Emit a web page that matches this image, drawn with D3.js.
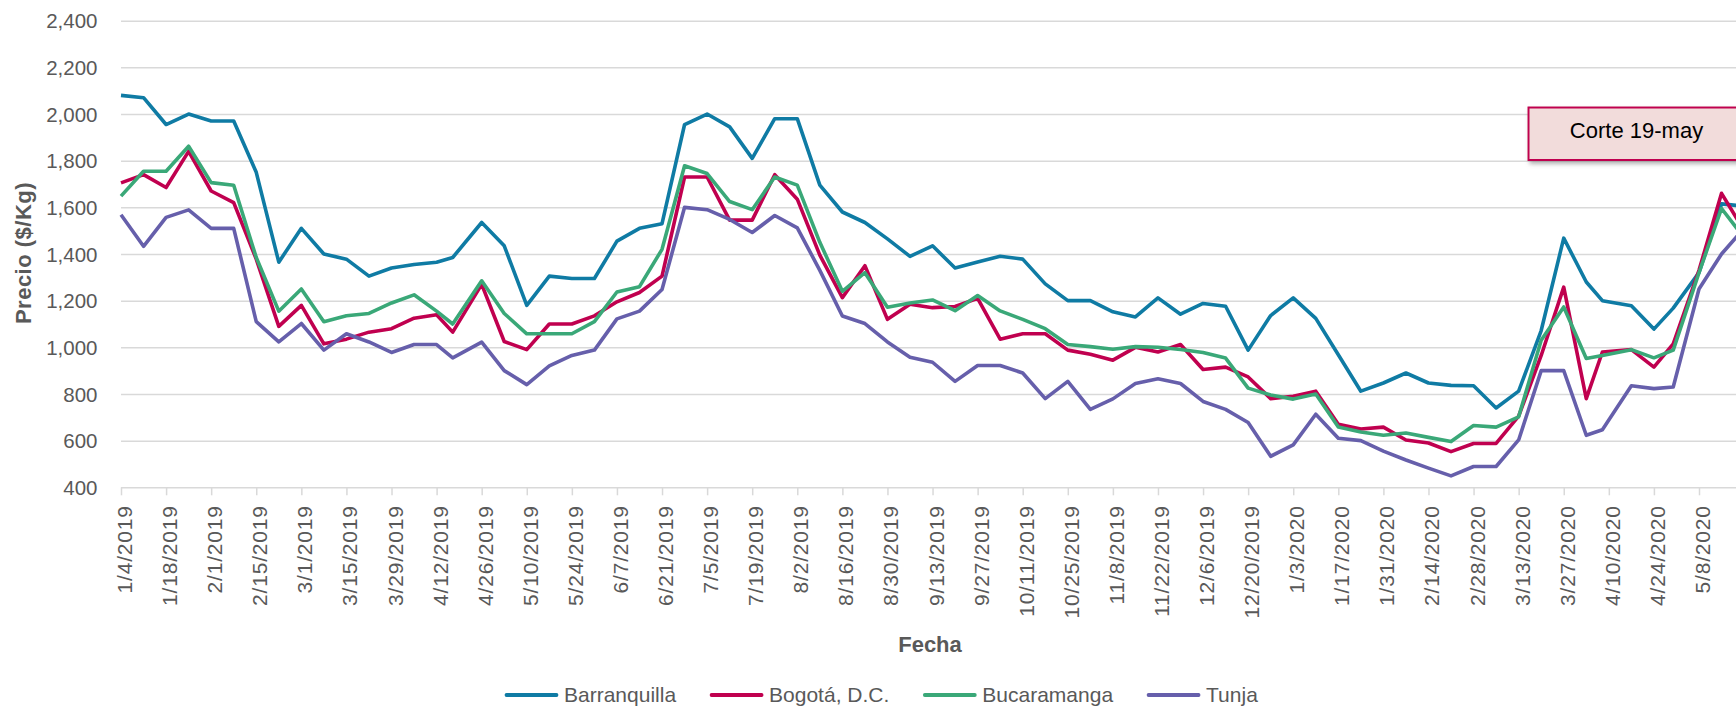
<!DOCTYPE html>
<html>
<head>
<meta charset="utf-8">
<script src="https://cdn.jsdelivr.net/npm/d3@7"></script>
<style>
	body	{ margin:0; background:#fff; }
	text	{ font-family: "Liberation Sans", Arial, sans-serif; }
</style>
</head>
<body>
<svg id="chart" width="1736" height="707"></svg>
<script>
// weekly observation dates (holiday weeks were taken earlier in the week)
var	dates	= ["2019-01-04","2019-01-11","2019-01-18","2019-01-25","2019-02-01","2019-02-08","2019-02-15","2019-02-22","2019-03-01","2019-03-08",
		"2019-03-15","2019-03-22","2019-03-29","2019-04-05","2019-04-12","2019-04-17","2019-04-26","2019-05-03","2019-05-10","2019-05-17",
		"2019-05-24","2019-05-31","2019-06-07","2019-06-14","2019-06-21","2019-06-28","2019-07-05","2019-07-12","2019-07-19","2019-07-26",
		"2019-08-02","2019-08-09","2019-08-16","2019-08-23","2019-08-30","2019-09-06","2019-09-13","2019-09-20","2019-09-27","2019-10-04",
		"2019-10-11","2019-10-18","2019-10-25","2019-11-01","2019-11-08","2019-11-15","2019-11-22","2019-11-29","2019-12-06","2019-12-13",
		"2019-12-20","2019-12-27","2020-01-03","2020-01-10","2020-01-17","2020-01-24","2020-01-31","2020-02-07","2020-02-14","2020-02-21",
		"2020-02-28","2020-03-06","2020-03-13","2020-03-20","2020-03-27","2020-04-03","2020-04-08","2020-04-17","2020-04-24","2020-04-30",
		"2020-05-08","2020-05-15","2020-05-22"];

var	barranquilla	= [2080,2070,1955,2000,1970,1970,1750,1365,1510,1400, 1378,1305,1340,1355,1365,1385,1535,1435,1180,1305,
		1295,1295,1455,1510,1530,1955,2000,1945,1810,1980, 1980,1695,1580,1535,1465,1390,1435,1340,1366,1390,
		1378,1272,1200,1200,1152,1130,1212,1142,1188,1176, 988,1136,1212,1124,968,812,847,890,847,837,
		835,740,812,1072,1468,1280,1200,1178,1078,1168, 1320,1615,1605];
var	bogota	= [1705,1740,1685,1840,1670,1620,1378,1090,1180,1015, 1035,1065,1080,1125,1140,1065,1270,1025,990,1100,
		1100,1135,1195,1235,1305,1730,1730,1545,1545,1740, 1635,1395,1213,1350,1120,1185,1170,1175,1210,1035,
		1058,1058,988,970,945,1000,980,1012,905,915, 873,780,790,812,670,650,658,603,590,553,
		588,588,705,965,1258,780,980,990,915,1015, 1330,1660,1500];
var	bucaramanga	= [1648,1755,1755,1862,1706,1695,1385,1155,1250,1110, 1135,1145,1190,1225,1155,1100,1285,1145,1058,1058,
		1058,1110,1237,1260,1420,1778,1745,1625,1590,1730, 1695,1450,1240,1320,1172,1190,1203,1157,1222,1156,
		1120,1080,1012,1003,992,1003,1000,991,978,954, 825,796,778,800,658,637,623,633,614,596,
		665,658,702,1030,1173,952,965,990,955,988, 1320,1595,1470];
var	tunja	= [1568,1433,1557,1589,1510,1510,1110,1023,1102,988, 1058,1023,978,1012,1012,955,1022,900,840,920,
		965,988,1122,1155,1248,1600,1590,1548,1492,1565, 1512,1330,1134,1102,1023,957,936,854,922,922,
		890,780,854,734,779,845,865,845,768,734, 678,533,582,713,610,600,555,517,482,449,
		489,489,603,900,900,623,647,835,823,830, 1250,1400,1510];

var	seriesNames	= ["Barranquilla", "Bogotá, D.C.", "Bucaramanga", "Tunja"];
var	seriesColors	= ["#0f7ba4", "#c0004f", "#3aa878", "#665fab"];
var	xTickLabels	= ["1/4/2019","1/18/2019","2/1/2019","2/15/2019","3/1/2019","3/15/2019","3/29/2019","4/12/2019","4/26/2019",
		"5/10/2019","5/24/2019","6/7/2019","6/21/2019","7/5/2019","7/19/2019","8/2/2019","8/16/2019","8/30/2019",
		"9/13/2019","9/27/2019","10/11/2019","10/25/2019","11/8/2019","11/22/2019","12/6/2019","12/20/2019",
		"1/3/2020","1/17/2020","1/31/2020","2/14/2020","2/28/2020","3/13/2020","3/27/2020","4/10/2020","4/24/2020","5/8/2020"];
var	yTicks	= [400, 600, 800, 1000, 1200, 1400, 1600, 1800, 2000, 2200, 2400];
var	yTitle	= "Precio ($/Kg)",
	xTitle	= "Fecha",
	note	= "Corte 19-may";

var	svg	= d3.select("#chart"),
	parseDay	= d3.utcParse("%Y-%m-%d"),
	parseTick	= d3.utcParse("%m/%d/%Y"),
	grey	= "#595959",
	gridCol	= "#d9d9d9";

var	days	= dates.map(parseDay),
	x0	= days[0],
	x1	= days[days.length-1],
	span	= (x1 - x0) / 864e5;

var	x	= d3.scaleUtc().domain([x0, x1]).range([121, 121 + span * 3.2204]),
	y	= d3.scaleLinear().domain([400, 2400]).range([487.3, 20.7]);

var	defs	= svg.append("defs");
defs.append("filter").attr("id", "shadow").attr("x", "-10%").attr("y", "-20%").attr("width", "130%").attr("height", "160%")
	.append("feDropShadow").attr("dx", 2).attr("dy", 3).attr("stdDeviation", 2)
	.attr("flood-color", "#7f7f7f").attr("flood-opacity", 0.6);

// gridlines + axis
var	yAxis	= svg.append("g").attr("class", "y axis")
		.call(d3.axisRight(y).tickValues(yTicks).tickSize(1760).tickFormat(d3.format(",")))
		.attr("transform", "translate(121,0)");
yAxis.select(".domain").remove();
yAxis.selectAll(".tick line").attr("stroke", gridCol).attr("stroke-width", 1.5);
yAxis.selectAll(".tick text").attr("x", -23.5).attr("dy", "0.35em").attr("text-anchor", "end")
	.attr("fill", grey).style("font-size", "20.5px");

var	xAxis	= svg.append("g").attr("class", "x axis").attr("transform", "translate(0," + y(400) + ")")
		.call(d3.axisBottom(x).tickValues(xTickLabels.map(parseTick)).tickSize(8).tickFormat(d3.utcFormat("%-m/%-d/%Y")));
xAxis.select(".domain").remove();
xAxis.selectAll(".tick line").attr("stroke", gridCol).attr("stroke-width", 1.5);
xAxis.selectAll(".tick text")
	.attr("transform", "rotate(-90)")
	.attr("x", -18).attr("y", 10.5).attr("dy", 0)
	.attr("text-anchor", "end")
	.attr("fill", grey)
	.style("font-size", "21px").style("letter-spacing", "0.8px");

// series
var	series	= [barranquilla, bogota, bucaramanga, tunja].map(function(vals, i) {
		return { name: seriesNames[i], color: seriesColors[i],
			values: vals.map(function(v, j) { return { date: days[j], value: v }; }) };
	});
var	line	= d3.line()
		.x(function(d) { return x(d.date); })
		.y(function(d) { return y(d.value); });

svg.append("g").attr("class", "lines").selectAll("path").data(series).enter()
	.append("path")
	.attr("d", function(d) { return line(d.values); })
	.attr("fill", "none")
	.attr("stroke", function(d) { return d.color; })
	.attr("stroke-width", 3.6)
	.attr("stroke-linejoin", "round");

// axis titles
svg.append("text").attr("transform", "translate(31,253) rotate(-90)")
	.attr("text-anchor", "middle").attr("fill", grey)
	.style("font-size", "22px").style("font-weight", "bold").style("letter-spacing", "0.5px")
	.text(yTitle);
svg.append("text").attr("x", 930).attr("y", 651.5)
	.attr("text-anchor", "middle").attr("fill", grey)
	.style("font-size", "22px").style("font-weight", "bold")
	.text(xTitle);

// note box
var	box	= svg.append("g").attr("class", "note");
box.append("rect").attr("x", 1528.5).attr("y", 107.5).attr("width", 230).attr("height", 52.5)
	.attr("fill", "#f2dcdb").attr("stroke", "#c0004f").attr("stroke-width", 2)
	.attr("filter", "url(#shadow)");
box.append("text").attr("x", 1636.5).attr("y", 138).attr("text-anchor", "middle")
	.attr("fill", "#000").style("font-size", "22px")
	.text(note);

// legend
var	legend	= svg.append("g").attr("class", "legend"),
	lx	= 505;
series.forEach(function(s) {
	var g = legend.append("g").attr("transform", "translate(" + lx + ",0)");
	g.append("line").attr("x1", 1.5).attr("x2", 51.5).attr("y1", 695).attr("y2", 695)
		.attr("stroke", s.color).attr("stroke-width", 3.8).attr("stroke-linecap", "round");
	var t = g.append("text").attr("x", 59).attr("y", 702).attr("fill", grey)
		.style("font-size", "21px").text(s.name);
	lx += 59 + t.node().getComputedTextLength() + 34;
});
</script>
</body>
</html>
